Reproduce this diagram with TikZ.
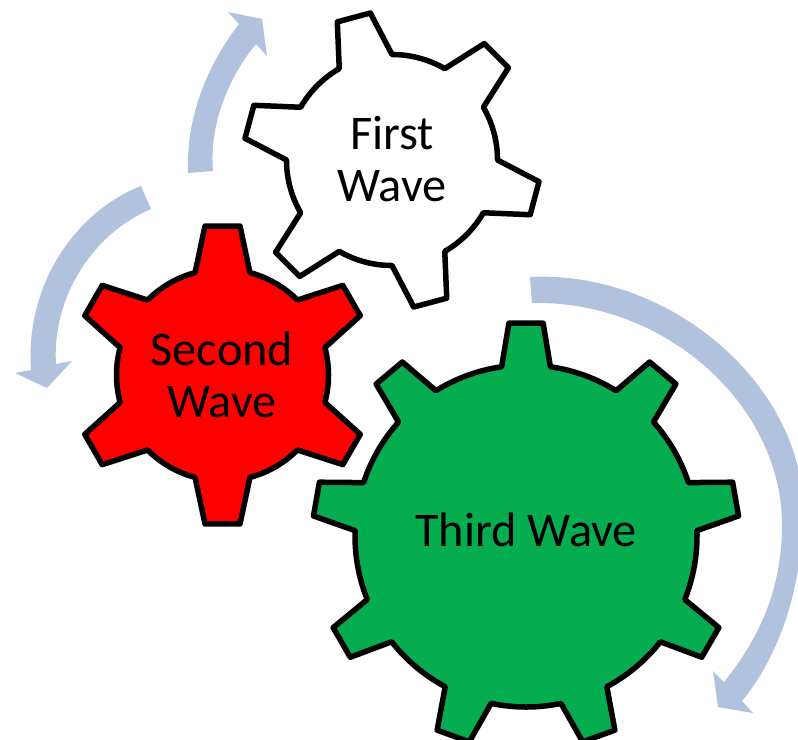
\documentclass[tikz,border=0pt]{standalone}
\usepackage{fontspec}
\setmainfont{Carlito}
\usepackage{xcolor}
\usepackage{tikz}
\definecolor{arrowblue}{HTML}{B1C2DE}
\definecolor{gearred}{HTML}{FF0000}
\definecolor{geargreen}{HTML}{06AD50}
\tikzset{
  gearline/.style={draw=black, line width=0.055cm, line join=round},
  wavearrow/.style={fill=arrowblue, draw=none},
  wavetext/.style={align=center, text=black, font=\fontsize{13.75}{14.7}\selectfont, inner sep=0pt}
}

\begin{document}
\begin{tikzpicture}[x=0.01cm, y=-0.01cm]

\clip (0,0) rectangle (798,739);

% Draw the arrows
\fill[wavearrow] (188,173) .. controls (186,120) and (205,68) .. (239,24)
  -- (228,12) -- (262,19) -- (267,56) -- (256,44)
  .. controls (228,78) and (209,125) .. (213,171) -- cycle;

\fill[wavearrow] (141,186) .. controls (75,212) and (25,285) .. (31,370)
  -- (15,373) -- (47,388) -- (72,361) -- (56,364)
  .. controls (52,300) and (90,235) .. (151,209) -- cycle;

\fill[wavearrow] (530,277) .. controls (670,270) and (803,385) .. (803,510)
  .. controls (803,585) and (780,655) .. (742,701)
  -- (753,713) -- (718,707) -- (713,671) -- (724,682)
  .. controls (762,635) and (782,585) .. (782,525)
  .. controls (782,405) and (665,300) .. (532,303) -- cycle;

% Draw the white gear
\begin{scope}[shift={(392,160)}]
\draw[gearline, fill=white] (-120:105.5)
  \foreach \i in {0,...,5}
  { -- (\i*60-105-6.6:148.6) -- (\i*60-105+6.6:148.6) -- (\i*60-105+15:105.5)
    arc[start angle=\i*60-90, end angle=\i*60-60, radius=105.5] } -- cycle;
\end{scope}

% Draw the red gear
\begin{scope}[shift={(222.5,375)}]
\draw[gearline, fill=gearred] (-105:106)
  \foreach \i in {0,...,5}
  { -- (\i*60-90-6.7:150) -- (\i*60-90+6.7:150) -- (\i*60-90+15:106)
    arc[start angle=\i*60-75, end angle=\i*60-45, radius=106] } -- cycle;
\end{scope}

% Draw the green gear
\begin{scope}[shift={(526,536)}]
\draw[gearline, fill=geargreen] (-98.2:171)
  \foreach \i in {0,...,8}
  { -- (\i*40-90-4.6:213.5) -- (\i*40-90+4.6:213.5) -- (\i*40-90+8.2:171)
    arc[start angle=\i*40-81.8, end angle=\i*40-58.2, radius=171] } -- cycle;
\end{scope}

\node[wavetext] (first) at (392,159) {First\\Wave};
\node[wavetext] (second) at (222,375) {Second\\Wave};
\node[wavetext] (third) at (526,530) {Third Wave};

\end{tikzpicture}
\end{document}
